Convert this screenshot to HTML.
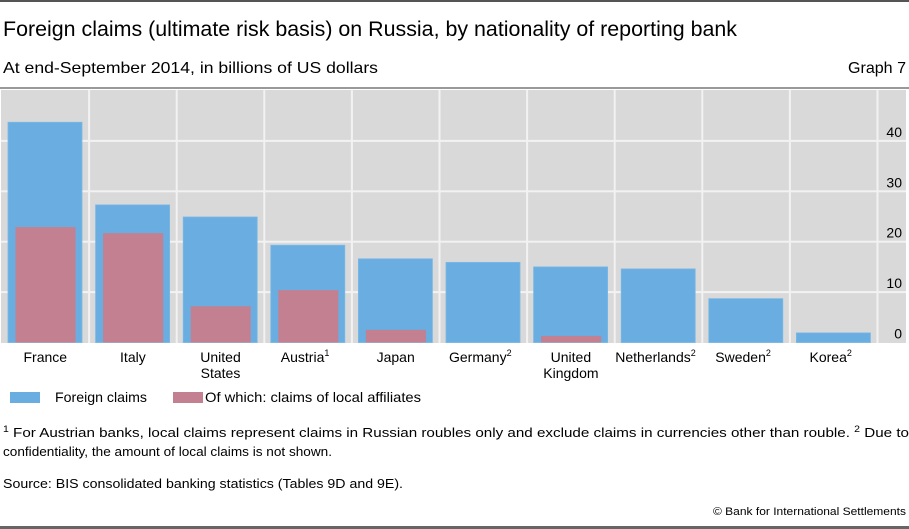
<!DOCTYPE html>
<html><head><meta charset="utf-8"><style>
body{margin:0;background:#fff;}
svg{display:block;font-family:"Liberation Sans",sans-serif;}
</style></head><body>
<svg width="909" height="529" viewBox="0 0 909 529">
<rect x="0" y="0" width="909" height="2" fill="#555"/>
<text x="3" y="36" font-size="21" textLength="734" lengthAdjust="spacingAndGlyphs" fill="#000">Foreign claims (ultimate risk basis) on Russia, by nationality of reporting bank</text>
<text x="3" y="73" font-size="16" textLength="375" lengthAdjust="spacingAndGlyphs" fill="#000">At end-September 2014, in billions of US dollars</text>
<text x="906" y="73" font-size="16" text-anchor="end" textLength="58" lengthAdjust="spacingAndGlyphs" fill="#000">Graph 7</text>
<rect x="0" y="87" width="909" height="2" fill="#999"/>
<rect x="1" y="90" width="905" height="253" fill="#d9d9d9"/>
<g id="grid"></g>
<g id="bars"></g>
<g id="labels"></g>
<g id="ticks"></g>
<rect x="10" y="392" width="30" height="11" fill="#6aade0"/>
<text x="55" y="402" font-size="14" textLength="92" lengthAdjust="spacingAndGlyphs">Foreign claims</text>
<rect x="173" y="392" width="30" height="11" fill="#c38090"/>
<text x="205" y="402" font-size="14" textLength="216" lengthAdjust="spacingAndGlyphs">Of which: claims of local affiliates</text>
<text x="3" y="437" font-size="13" textLength="906" lengthAdjust="spacingAndGlyphs"><tspan font-size="9" dy="-5">1</tspan><tspan dy="5">  For Austrian banks, local claims represent claims in Russian roubles only and exclude claims in currencies other than rouble.   </tspan><tspan font-size="9" dy="-5">2</tspan><tspan dy="5">  Due to</tspan></text>
<text x="3" y="456" font-size="13" textLength="329" lengthAdjust="spacingAndGlyphs">confidentiality, the amount of local claims is not shown.</text>
<text x="3" y="488" font-size="13" textLength="400" lengthAdjust="spacingAndGlyphs">Source: BIS consolidated banking statistics (Tables 9D and 9E).</text>
<text x="906" y="515" font-size="11" text-anchor="end" textLength="193" lengthAdjust="spacingAndGlyphs">© Bank for International Settlements</text>
<rect x="0" y="526" width="909" height="3" fill="#666"/>
</svg>
<script>
const categories=["France","Italy","United|States","Austria","Japan","Germany","United|Kingdom","Netherlands","Sweden","Korea"];
const superscripts=["","","","1","","2","","2","2","2"];
const foreignClaims=[43.7,27.3,24.9,19.3,16.6,15.9,15.0,14.6,8.7,1.9];
const localClaims=[22.9,21.7,7.2,10.4,2.5,null,1.3,null,null,null];
const yTicks=[0,10,20,30,40];
const NS="http://www.w3.org/2000/svg";
const x0=1.5,colW=87.6,yBase=342.5,pxPerUnit=5.04;
const y=v=>yBase-v*pxPerUnit;
const xc=i=>x0+i*colW;
function mk(tag,attrs,parent){const e=document.createElementNS(NS,tag);for(const k in attrs)e.setAttribute(k,attrs[k]);document.getElementById(parent).appendChild(e);return e;}
yTicks.forEach(t=>{
 if(t>0){const l=mk('rect',{x:1,y:y(t)-1,width:905,height:2,fill:'#f2f2f2'},'grid');
 
 }
 const tx=mk('text',{x:902,y:y(t)-4,'font-size':14,'text-anchor':'end'},'ticks');tx.textContent=t;
 
 
});
for(let i=1;i<=categories.length;i++){const l=mk('rect',{x:xc(i)-1,y:90,width:2,height:253,fill:'#f2f2f2'},'grid');
 
 }
categories.forEach((c,i)=>{
 const b=mk('rect',{x:xc(i)+6.5,y:y(foreignClaims[i]),width:74,height:foreignClaims[i]*pxPerUnit,fill:'#6aade0',stroke:'#79b8e6','stroke-width':0.8},'bars');
 
 
 if(localClaims[i]!=null){const r=mk('rect',{x:xc(i)+14,y:y(localClaims[i]),width:60,height:localClaims[i]*pxPerUnit,fill:'#c38090'},'bars');
 
 }
 const lines=c.split('|');
 lines.forEach((ln,j)=>{const t=mk('text',{x:xc(i)+colW/2-(superscripts[i]?3:0),y:362+j*16,'font-size':14,'text-anchor':'middle'},'labels');
  t.textContent=ln;
  if(j===0&&superscripts[i]){const s=document.createElementNS(NS,'tspan');s.setAttribute('font-size','9');s.setAttribute('dy','-6');s.textContent=superscripts[i];t.appendChild(s);}
  
  });
});
</script>
</body></html>
